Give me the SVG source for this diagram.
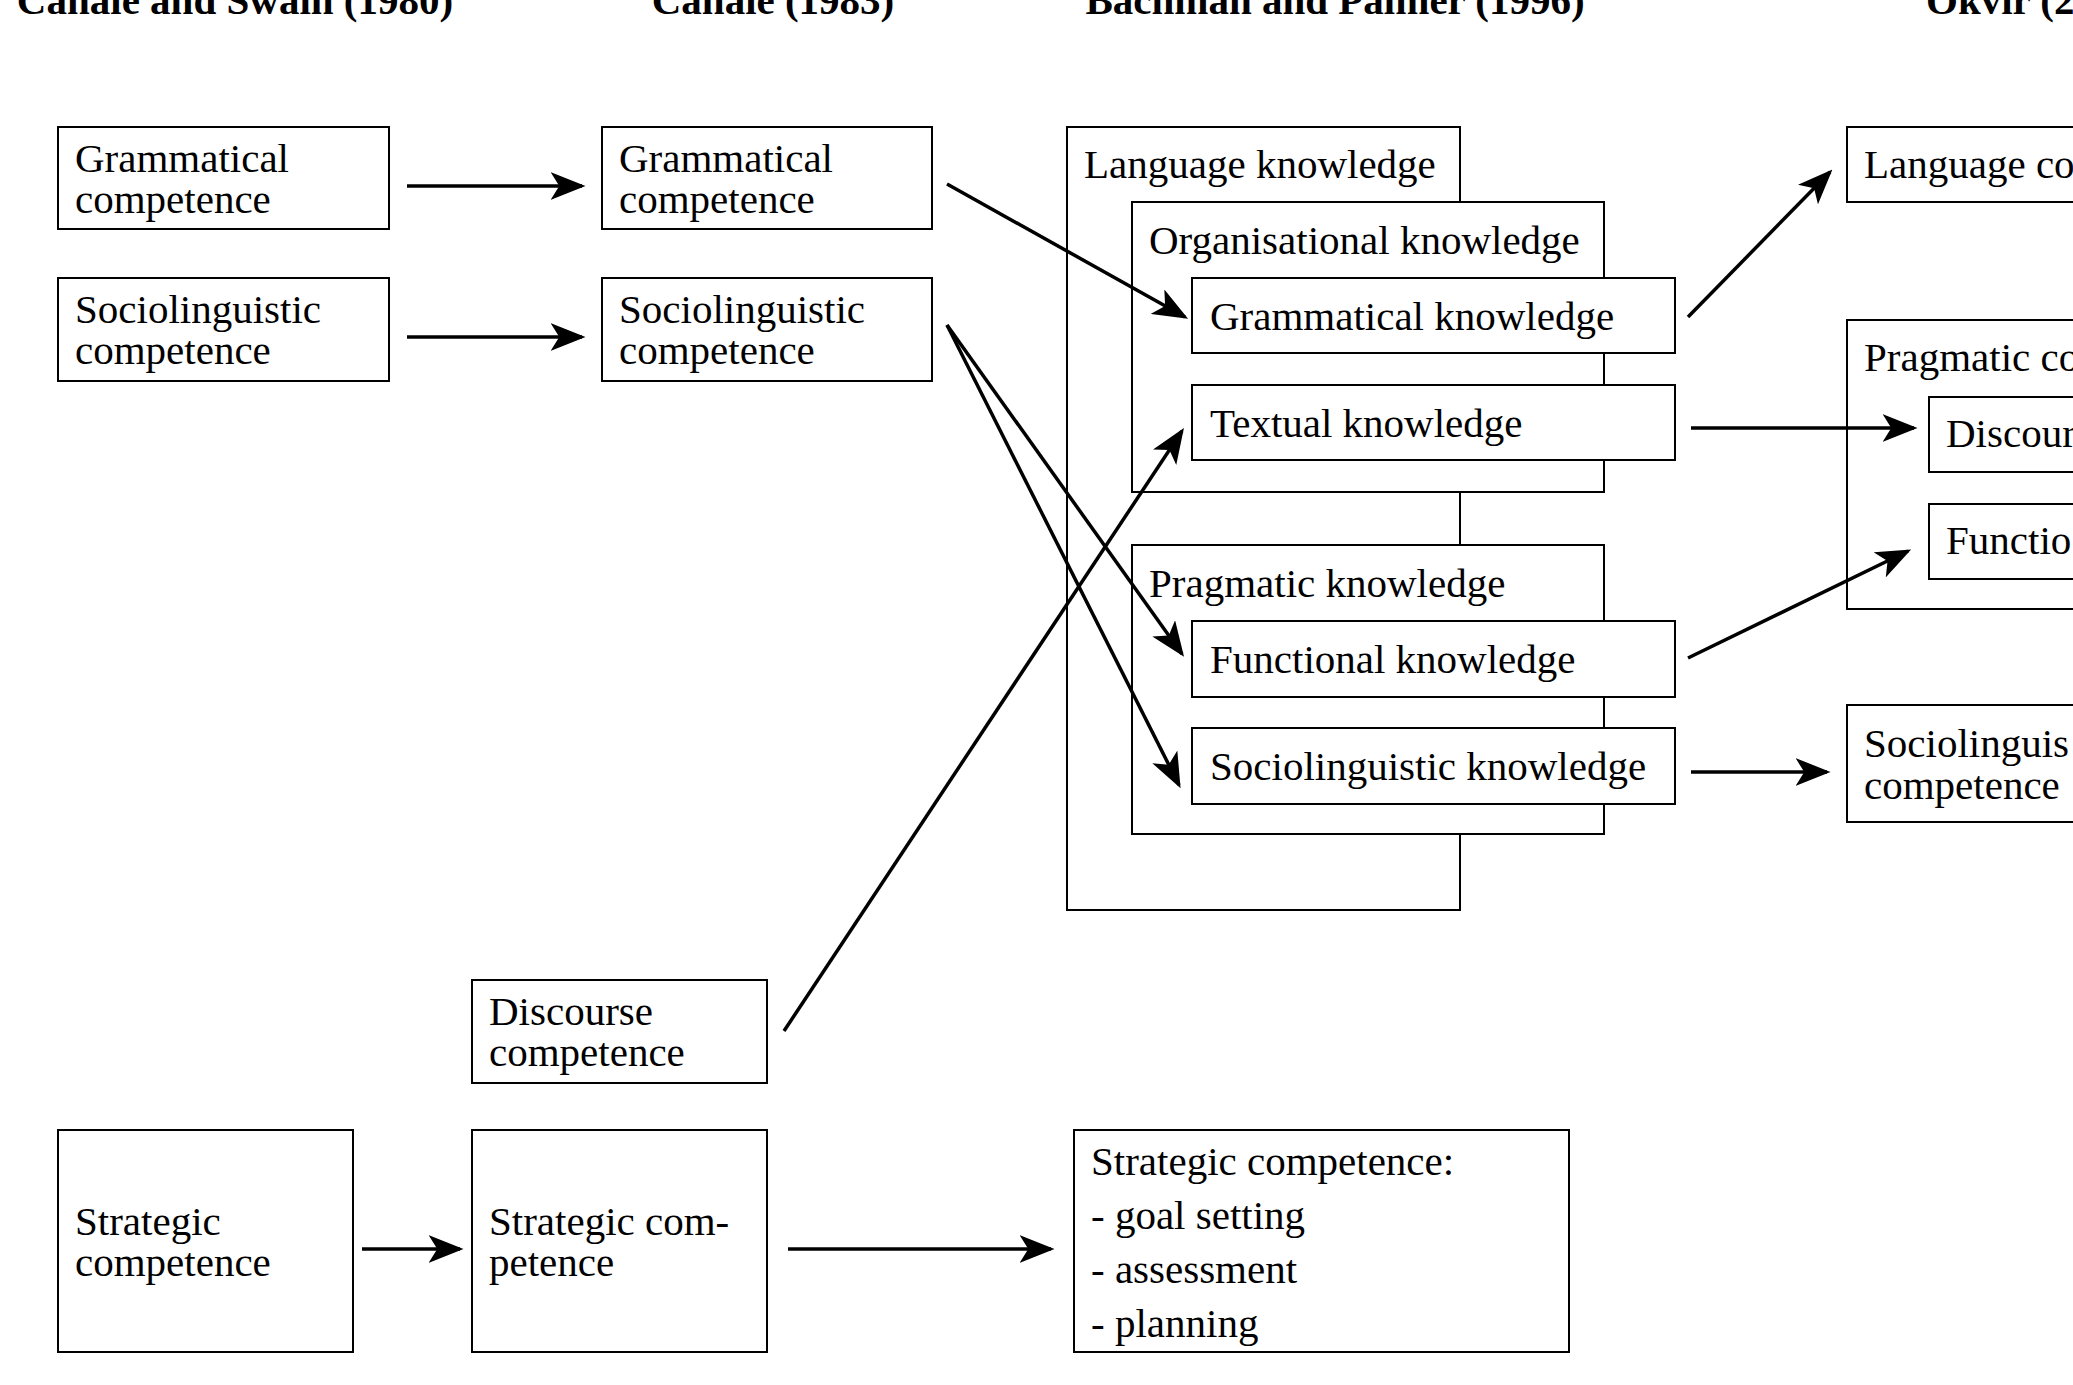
<svg xmlns="http://www.w3.org/2000/svg" width="2073" height="1385" viewBox="0 0 2073 1385">
<style>
text{font-family:"Liberation Serif","Times New Roman",serif;font-size:41px;fill:#000}
.t{font-weight:bold}
rect{fill:#fff;stroke:#000;stroke-width:2}
.c line{stroke:#000;stroke-width:3.5;marker-end:url(#a)}
</style>
<defs><marker id="a" markerWidth="10" markerHeight="8" refX="9" refY="4" orient="auto" markerUnits="strokeWidth"><path d="M0,0 L10,4 L0,8 L2.5,4 Z" fill="#000"/></marker></defs>
<rect width="2073" height="1385" style="stroke:none"/>
<g id="titles" class="t">
<text class="t" x="235" y="14" text-anchor="middle">Canale and Swain (1980)</text>
<text class="t" x="773" y="14" text-anchor="middle">Canale (1983)</text>
<text class="t" x="1335" y="14" text-anchor="middle">Bachman and Palmer (1996)</text>
<text class="t" x="1926" y="14">Okvir (2</text>
</g>
<g id="gc1"><rect x="58" y="127" width="331" height="102"/><text x="75" y="172">Grammatical</text><text x="75" y="213">competence</text></g>
<g id="sc1"><rect x="58" y="278" width="331" height="103"/><text x="75" y="323">Sociolinguistic</text><text x="75" y="364">competence</text></g>
<g id="gc2"><rect x="602" y="127" width="330" height="102"/><text x="619" y="172">Grammatical</text><text x="619" y="213">competence</text></g>
<g id="sc2"><rect x="602" y="278" width="330" height="103"/><text x="619" y="323">Sociolinguistic</text><text x="619" y="364">competence</text></g>
<g id="dc2"><rect x="472" y="980" width="295" height="103"/><text x="489" y="1025">Discourse</text><text x="489" y="1066">competence</text></g>
<g id="st1"><rect x="58" y="1130" width="295" height="222"/><text x="75" y="1235">Strategic</text><text x="75" y="1276">competence</text></g>
<g id="st2"><rect x="472" y="1130" width="295" height="222"/><text x="489" y="1235">Strategic com-</text><text x="489" y="1276">petence</text></g>
<g id="st3"><rect x="1074" y="1130" width="495" height="222"/><text x="1091" y="1175">Strategic competence:</text><text x="1091" y="1229">- goal setting</text><text x="1091" y="1283">- assessment</text><text x="1091" y="1337">- planning</text></g>
<g id="lk"><rect x="1067" y="127" width="393" height="783"/><text x="1084" y="178">Language knowledge</text></g>
<g id="ok"><rect x="1132" y="202" width="472" height="290"/><text x="1149" y="254">Organisational knowledge</text></g>
<g id="gk"><rect x="1192" y="278" width="483" height="75"/><text x="1210" y="330">Grammatical knowledge</text></g>
<g id="tk"><rect x="1192" y="385" width="483" height="75"/><text x="1210" y="437">Textual knowledge</text></g>
<g id="pk"><rect x="1132" y="545" width="472" height="289"/><text x="1149" y="597">Pragmatic knowledge</text></g>
<g id="fk"><rect x="1192" y="621" width="483" height="76"/><text x="1210" y="673">Functional knowledge</text></g>
<g id="sk"><rect x="1192" y="728" width="483" height="76"/><text x="1210" y="780">Sociolinguistic knowledge</text></g>
<g id="lc"><rect x="1847" y="127" width="240" height="75"/><text x="1864" y="178">Language co</text></g>
<g id="pc"><rect x="1847" y="320" width="240" height="289"/><text x="1864" y="371">Pragmatic co</text></g>
<g id="dc"><rect x="1929" y="397" width="160" height="75"/><text x="1946" y="447">Discour</text></g>
<g id="fc"><rect x="1929" y="504" width="160" height="75"/><text x="1946" y="554">Functio</text></g>
<g id="slc"><rect x="1847" y="705" width="240" height="117"/><text x="1864" y="757">Sociolinguis</text><text x="1864" y="799">competence</text></g>
<g class="c" id="connectors">
<line x1="407" y1="186" x2="582" y2="186"/>
<line x1="407" y1="337" x2="582" y2="337"/>
<line x1="947" y1="184" x2="1185" y2="317"/>
<line x1="947" y1="325" x2="1182" y2="654"/>
<line x1="947" y1="325" x2="1179" y2="785"/>
<line x1="784" y1="1031" x2="1182" y2="431"/>
<line x1="362" y1="1249" x2="460" y2="1249"/>
<line x1="788" y1="1249" x2="1051" y2="1249"/>
<line x1="1688" y1="317" x2="1830" y2="172"/>
<line x1="1691" y1="428" x2="1914" y2="428"/>
<line x1="1688" y1="658" x2="1908" y2="551"/>
<line x1="1691" y1="772" x2="1827" y2="772"/>
</g>
</svg>
